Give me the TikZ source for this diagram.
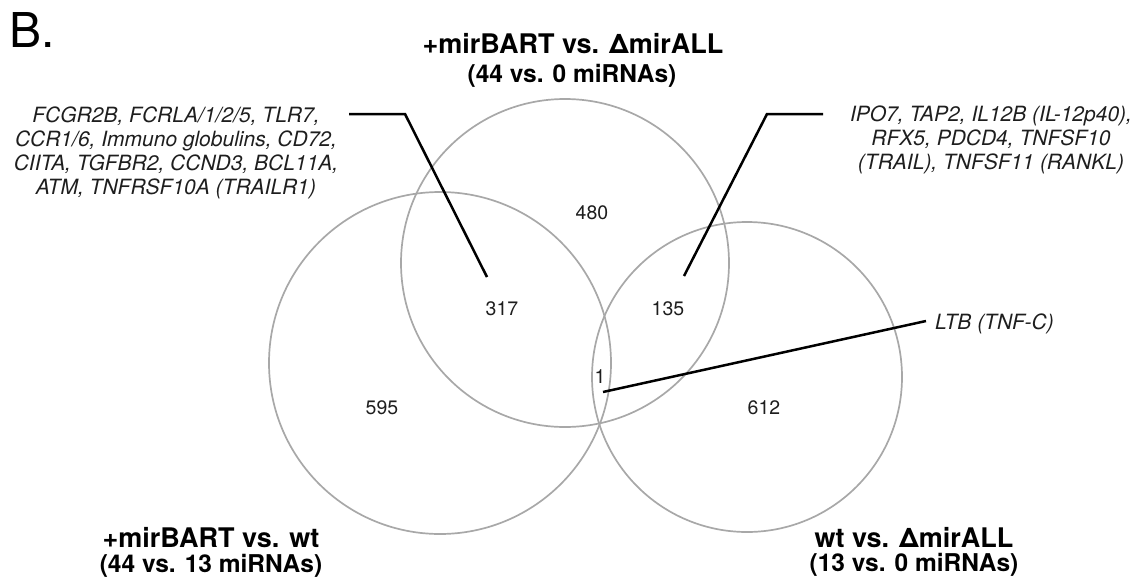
\documentclass[tikz,border=0pt]{standalone}
\usepackage{fontspec}
\setmainfont{TeX Gyre Heros}
\definecolor{ringgray}{HTML}{A8A8A8}
\definecolor{inkgray}{HTML}{1E1E1E}
\begin{document}
\begin{tikzpicture}[x=1pt,y=-1pt,
  ring/.style={circle,draw=ringgray,line width=1.7pt,inner sep=0pt,outer sep=0pt},
  leader/.style={draw=black,line width=2.5pt},
  count/.style={font=\fontsize{19.5}{22}\selectfont,inner sep=0pt,text=inkgray},
  genes/.style={font=\fontsize{21}{24}\selectfont\itshape,align=center,anchor=base,inner sep=0pt,text=inkgray},
  setname/.style={font=\fontsize{27}{30}\selectfont\bfseries,anchor=base,inner sep=0pt},
  setsize/.style={font=\fontsize{24.5}{28}\selectfont\bfseries,anchor=base,inner sep=0pt}]
\useasboundingbox (0,0) rectangle (1141,582);

% circles
\node[ring,minimum size=328pt] (top) at (565,263) {};
\node[ring,minimum size=342pt] (left) at (440,363) {};
\node[ring,minimum size=310pt] (right) at (747,377) {};

% panel letter
\node[anchor=base west,inner sep=0pt,font=\fontsize{48}{52}\selectfont] (panel) at (9,47) {B.};

% set labels
\node[setname] (ttopa) at (573,53) {+mirBART vs. ΔmirALL};
\node[setsize] (ttopb) at (572,82) {(44 vs. 0 miRNAs)};
\node[setname] (tlefta) at (211,547) {+mirBART vs. wt};
\node[setsize] (tleftb) at (211,572) {(44 vs. 13 miRNAs)};
\node[setname] (trighta) at (914,547) {wt vs. ΔmirALL};
\node[setsize] (trightb) at (914,571) {(13 vs. 0 miRNAs)};

% counts
\node[count] (n480) at (592,213) {480};
\node[count] (n317) at (502,309) {317};
\node[count] (n135) at (668,309) {135};
\node[count] (n1) at (600,377) {1};
\node[count] (n595) at (382,408) {595};
\node[count] (n612) at (764,408) {612};

% gene lists (anchor base = baseline of the last line)
\node[genes] (gleft) at (176,194) {FCGR2B, FCRLA/1/2/5, TLR7,\\CCR1/6, Immuno globulins, CD72,\\CIITA, TGFBR2, CCND3, BCL11A,\\ATM, TNFRSF10A (TRAILR1)};
\node[genes] (gright) at (991,169) {IPO7, TAP2, IL12B (IL-12p40),\\RFX5, PDCD4, TNFSF10\\(TRAIL), TNFSF11 (RANKL)};
\node[genes,anchor=base west] (gltb) at (935,329) {LTB (TNF-C)};

% leader lines
\coordinate (la) at (349,114);
\coordinate (lb) at (405,114);
\coordinate (lc) at (487,277);
\coordinate (ra) at (823,114);
\coordinate (rb) at (767,114);
\coordinate (rc) at (684,276);
\coordinate (ta) at (603,392);
\coordinate (tb) at (926,321);
\draw[leader] (la) -- (lb) -- (lc);
\draw[leader] (ra) -- (rb) -- (rc);
\draw[leader] (ta) -- (tb);
\end{tikzpicture}
\end{document}
